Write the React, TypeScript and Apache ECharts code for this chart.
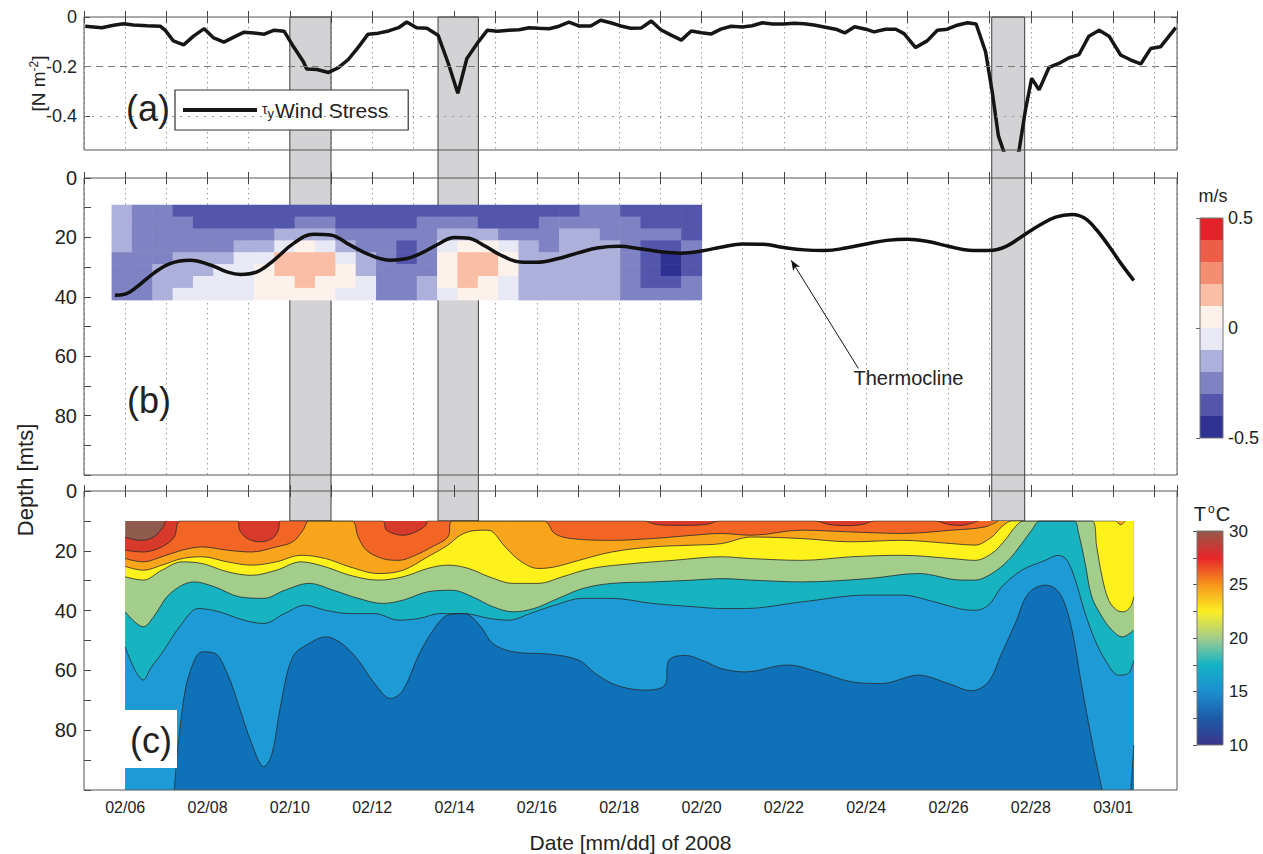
import React, { useEffect, useRef } from "react";
import * as echarts from "echarts";

const FONT = "'Liberation Sans', Arial, Helvetica, sans-serif";
const INK = "#222";

// ---------- shared time axis (day of February 2008; day 30 = 03/01) ----------
const DAY_MIN = 5;
const DAY_MAX = 31.55;
const labelDays = [6, 8, 10, 12, 14, 16, 18, 20, 22, 24, 26, 28, 30];
const labelTexts = ["02/06", "02/08", "02/10", "02/12", "02/14", "02/16", "02/18", "02/20", "02/22", "02/24", "02/26", "02/28", "03/01"];

// shaded wind events (day start / end)
const eventStart = [10.0, 13.6, 27.05];
const eventEnd = [11.0, 14.58, 27.85];

// ---------- (a) wind stress ----------
const windDays = [5.03, 5.43, 5.72, 5.96, 6.2, 6.53, 6.85, 6.97, 7.17, 7.42, 7.66, 7.92, 8.15, 8.4, 8.65, 8.89, 9.13, 9.38, 9.62, 9.86, 10.09, 10.33, 10.41, 10.66, 10.94, 11.18, 11.42, 11.67, 11.9, 12.15, 12.4, 12.64, 12.84, 13.08, 13.33, 13.6, 13.85, 14.08, 14.3, 14.58, 14.8, 15.04, 15.32, 15.57, 15.81, 16.05, 16.3, 16.54, 16.78, 17.02, 17.31, 17.55, 17.79, 18.04, 18.28, 18.54, 18.78, 19.01, 19.25, 19.51, 19.75, 20.0, 20.24, 20.47, 20.72, 20.99, 21.23, 21.48, 21.72, 22.0, 22.25, 22.49, 22.73, 22.98, 23.26, 23.48, 23.72, 23.99, 24.19, 24.47, 24.72, 24.92, 25.2, 25.48, 25.73, 25.97, 26.21, 26.46, 26.67, 26.9, 27.06, 27.21, 27.38, 27.55, 27.71, 27.87, 28.02, 28.2, 28.44, 28.68, 28.93, 29.17, 29.41, 29.66, 29.9, 30.18, 30.43, 30.67, 30.91, 31.15, 31.52];
const windStress = [-0.037, -0.043, -0.033, -0.027, -0.032, -0.035, -0.037, -0.053, -0.096, -0.112, -0.077, -0.047, -0.084, -0.101, -0.08, -0.061, -0.064, -0.069, -0.053, -0.057, -0.12, -0.18, -0.209, -0.211, -0.223, -0.204, -0.171, -0.12, -0.069, -0.065, -0.056, -0.043, -0.02, -0.043, -0.045, -0.073, -0.187, -0.307, -0.167, -0.1, -0.053, -0.057, -0.053, -0.051, -0.043, -0.045, -0.047, -0.037, -0.021, -0.036, -0.036, -0.013, -0.023, -0.036, -0.045, -0.044, -0.016, -0.051, -0.072, -0.093, -0.056, -0.063, -0.068, -0.049, -0.037, -0.04, -0.035, -0.023, -0.028, -0.028, -0.025, -0.027, -0.032, -0.04, -0.049, -0.064, -0.039, -0.049, -0.06, -0.049, -0.049, -0.067, -0.123, -0.096, -0.053, -0.049, -0.033, -0.023, -0.028, -0.14, -0.3, -0.477, -0.56, -0.6, -0.54, -0.373, -0.247, -0.293, -0.203, -0.187, -0.164, -0.151, -0.077, -0.053, -0.077, -0.153, -0.173, -0.189, -0.127, -0.12, -0.043];
const windTicks = [0, -0.2, -0.4];
const WIND_MIN = -0.535;

// ---------- (b) velocity section + thermocline ----------
const thermoDays = [5.75, 6.0, 6.28, 6.69, 7.09, 7.58, 8.07, 8.47, 8.8, 9.2, 9.61, 10.09, 10.58, 10.99, 11.47, 11.96, 12.45, 12.85, 13.18, 13.6, 14.0, 14.35, 14.75, 15.2, 15.6, 16.0, 16.5, 17.0, 17.5, 18.0, 18.5, 19.0, 19.5, 20.0, 20.5, 21.0, 21.5, 22.0, 22.5, 23.0, 23.5, 24.0, 24.5, 25.0, 25.5, 26.0, 26.5, 27.0, 27.4, 27.8, 28.2, 28.6, 29.0, 29.3, 29.6, 29.9, 30.2, 30.5];
const thermoDepth = [39.5, 39.1, 36.7, 32.1, 28.8, 27.7, 29.3, 31.6, 32.5, 31.6, 27.7, 22, 18.9, 19.2, 22.6, 26, 27.7, 27.1, 25.4, 22.3, 20, 20.3, 23, 26.5, 28.3, 28.4, 27.2, 25.2, 23.5, 23, 23.8, 24.8, 25.3, 24.6, 23.2, 22.2, 22.3, 23.4, 24.2, 24.4, 23.6, 22.2, 21, 20.6, 21.4, 23, 24.3, 24.4, 23, 19.5, 16, 13.2, 12.3, 13.5, 17.5, 23, 29, 34.5];
const arrowTail = [23.81, 64.1];
const arrowHead = [22.18, 27.7];

const velDayStart = 5.67;
const velDayEnd = 20.0;
const velDepthTop = [9, 13, 17, 21, 25, 29, 33, 37];
const velCellDepth = 4;
// m/s, one row per depth bin, one value per ~half-day column
const velocity = [
  [-0.15, -0.25, -0.25, -0.35, -0.35, -0.35, -0.35, -0.35, -0.35, -0.35, -0.35, -0.35, -0.35, -0.35, -0.35, -0.35, -0.35, -0.35, -0.35, -0.35, -0.35, -0.35, -0.35, -0.25, -0.25, -0.35, -0.35, -0.35, -0.35],
  [-0.15, -0.25, -0.25, -0.25, -0.35, -0.35, -0.35, -0.35, -0.35, -0.25, -0.25, -0.35, -0.35, -0.35, -0.35, -0.25, -0.25, -0.25, -0.35, -0.35, -0.35, -0.25, -0.25, -0.25, -0.25, -0.25, -0.35, -0.35, -0.35],
  [-0.15, -0.25, -0.25, -0.25, -0.25, -0.25, -0.25, -0.25, -0.15, -0.15, -0.15, -0.25, -0.25, -0.25, -0.25, -0.25, -0.15, -0.15, -0.15, -0.25, -0.25, -0.25, -0.15, -0.15, -0.25, -0.25, -0.25, -0.25, -0.35],
  [-0.15, -0.25, -0.25, -0.25, -0.25, -0.25, -0.15, -0.15, -0.05, 0.05, -0.05, -0.15, -0.25, -0.25, -0.35, -0.25, -0.05, 0.05, 0.05, -0.05, -0.15, -0.25, -0.15, -0.15, -0.15, -0.25, -0.35, -0.35, -0.25],
  [-0.25, -0.25, -0.25, -0.15, -0.15, -0.15, -0.05, -0.05, 0.15, 0.15, 0.15, -0.05, -0.15, -0.25, -0.35, -0.25, 0.05, 0.15, 0.15, 0.05, -0.15, -0.15, -0.15, -0.15, -0.15, -0.25, -0.35, -0.45, -0.35],
  [-0.25, -0.25, -0.15, -0.15, -0.15, -0.05, -0.05, 0.05, 0.15, 0.15, 0.15, 0.05, -0.15, -0.25, -0.25, -0.25, 0.05, 0.15, 0.15, 0.05, -0.15, -0.15, -0.15, -0.15, -0.15, -0.25, -0.35, -0.45, -0.35],
  [-0.25, -0.25, -0.15, -0.15, -0.05, -0.05, -0.05, 0.05, 0.05, 0.15, 0.05, 0.05, -0.05, -0.25, -0.25, -0.15, 0.05, 0.15, 0.05, -0.05, -0.15, -0.15, -0.15, -0.15, -0.15, -0.25, -0.35, -0.35, -0.25],
  [-0.25, -0.25, -0.15, -0.05, -0.05, -0.05, -0.05, 0.05, 0.05, 0.05, 0.05, -0.05, -0.05, -0.25, -0.25, -0.15, -0.05, 0.05, 0.05, -0.05, -0.15, -0.15, -0.15, -0.15, -0.15, -0.25, -0.25, -0.25, -0.25],
];
const velLevels = [-0.5, -0.4, -0.3, -0.2, -0.1, 0, 0.1, 0.2, 0.3, 0.4, 0.5];
const velColors = ["#2e3192", "#5356aa", "#7f83c3", "#adb0da", "#e8e9f5", "#fdf1eb", "#f9bea5", "#f48e72", "#ee5d48", "#e3232a"];
const velTicks = [-0.5, 0, 0.5];

// ---------- (c) temperature section: isotherm depths [day, depth m] ----------
const tempStart = 6.0;
const tempEnd = 30.5;
const iso29 = [[6.0, 15.4], [6.2, 16.2], [6.39, 16.5], [6.69, 15.4], [6.89, 12.6], [6.99, 10], [8, 10], [12, 10], [18, 10], [24, 10], [30.5, 10]];
const iso27 = [[6.0, 19.8], [6.44, 20.4], [6.89, 18.7], [7.19, 15.4], [7.34, 10], [8.73, 10], [8.78, 13.1], [8.97, 15.9], [9.27, 17], [9.57, 15.9], [9.72, 13.1], [9.77, 10], [12.25, 10], [12.35, 13.1], [12.75, 14.8], [13.05, 13.7], [13.3, 11.5], [13.35, 10], [18.61, 10], [18.9, 11.2], [19.5, 11.5], [20.1, 11.2], [20.45, 10], [22.75, 10], [23.1, 11.2], [23.5, 11.6], [23.9, 11.2], [24.21, 10], [25.67, 10], [26.0, 11.2], [26.3, 11.5], [26.72, 10], [30.5, 10]];
const iso25 = [[6.0, 22.6], [6.44, 23.7], [6.89, 22], [7.38, 19.8], [7.88, 18.7], [8.48, 19.8], [9.07, 20.4], [9.67, 18.7], [10.07, 17], [10.32, 13.1], [10.47, 10], [11.5, 10], [11.66, 15.4], [11.86, 19.8], [12.25, 22.6], [12.65, 23.2], [13.05, 21.5], [13.45, 18.7], [13.84, 15.4], [13.94, 10], [16.17, 10], [16.43, 14.2], [16.83, 15.9], [17.82, 16.5], [18.81, 15.9], [19.8, 14.8], [20.48, 14.2], [21.21, 14.8], [22.43, 13.1], [23.64, 13.7], [24.86, 14.2], [26.08, 13.1], [26.89, 12], [27.21, 10], [30.5, 10]];
const iso23 = [[6.0, 25.2], [6.44, 26.5], [6.89, 24.8], [7.38, 22.6], [7.88, 22], [8.48, 23.7], [9.07, 24.8], [9.67, 23.7], [10.27, 21.5], [10.87, 22.6], [11.46, 25.4], [12.15, 27.6], [12.75, 26.5], [13.35, 22], [13.84, 18.1], [14.14, 14.8], [14.45, 13.3], [14.74, 13.1], [14.93, 13.7], [15.23, 18.7], [15.63, 23.7], [16.03, 25.9], [16.43, 25.4], [17.02, 23.2], [17.82, 20.4], [18.81, 18.7], [19.8, 18.1], [20.48, 17.6], [21.21, 15.4], [22.43, 15.9], [23.64, 17], [24.86, 16.5], [26.08, 17.6], [26.64, 18.1], [27.05, 15.4], [27.29, 12], [27.54, 10], [30.05, 10], [30.18, 11.3], [30.3, 10], [30.5, 10]];
const iso21 = [[6.0, 28.7], [6.44, 29.8], [6.89, 26.5], [7.38, 23.7], [7.88, 24.3], [8.48, 27], [9.07, 28.2], [9.67, 26.5], [10.27, 23.7], [10.87, 25.4], [11.46, 28.2], [12.15, 29.8], [12.75, 28.7], [13.35, 25.9], [13.84, 24.8], [14.34, 25.9], [14.84, 28.7], [15.43, 30.9], [16.03, 30.9], [16.62, 28.7], [17.32, 25.9], [18.31, 24.3], [19.31, 23.2], [20.48, 22], [21.21, 22.6], [22.43, 23.2], [23.64, 22], [24.86, 21.5], [26.08, 22.6], [26.64, 23.2], [27.05, 20.9], [27.37, 16.5], [27.62, 12], [27.82, 10], [29.48, 10], [29.6, 18.7], [29.73, 28.7], [29.89, 36.5], [30.09, 39.9], [30.25, 40.4], [30.42, 38.7], [30.5, 35.4]];
const iso19 = [[6.0, 40.4], [6.44, 45.4], [6.69, 42.1], [7.09, 34.3], [7.68, 30.4], [8.18, 32.1], [8.78, 35.4], [9.37, 35.9], [9.87, 33.2], [10.47, 30.9], [11.06, 33.2], [11.66, 35.9], [12.25, 37.6], [12.75, 36.5], [13.35, 33.7], [13.94, 33.2], [14.44, 35.4], [14.93, 38.7], [15.43, 40.4], [15.93, 39.3], [16.52, 35.9], [17.12, 32.6], [17.82, 30.9], [18.81, 30.4], [19.8, 29.8], [20.48, 29.3], [21.21, 29.8], [22.43, 30.4], [24.05, 29.3], [25.27, 27.6], [26.32, 29.8], [26.64, 29.8], [27.05, 27.6], [27.45, 23.2], [27.78, 17.6], [28.02, 13.1], [28.23, 10], [29.04, 10], [29.16, 14.2], [29.32, 24.3], [29.48, 35.4], [29.73, 42.1], [29.97, 46.5], [30.22, 48.8], [30.5, 46.5]];
const iso17 = [[6.0, 52.1], [6.44, 63.2], [6.64, 58.8], [6.89, 54.3], [7.38, 44.3], [7.78, 39.3], [8.28, 40.4], [8.88, 43.2], [9.37, 44.3], [9.87, 41], [10.37, 38.2], [10.87, 39.9], [11.46, 41], [12.06, 41], [12.65, 43.2], [13.15, 42.6], [13.64, 41], [14.24, 41], [14.84, 42.6], [15.33, 43.2], [15.83, 41], [16.43, 38.2], [17.12, 35.9], [17.82, 35.9], [18.81, 37.6], [19.8, 38.7], [20.48, 39.3], [21.05, 39.3], [22.43, 37.1], [24.05, 34.8], [24.86, 34.8], [25.67, 37.1], [26.24, 39.3], [26.64, 39.9], [26.97, 38.2], [27.29, 32.1], [27.78, 26.5], [28.35, 23.2], [28.67, 21.5], [28.88, 23.2], [29.08, 29.8], [29.32, 41], [29.56, 49.9], [29.81, 56.6], [30.13, 61.6], [30.37, 61], [30.5, 56.6]];
const iso15 = [[6.0, 101], [7.1, 101], [7.19, 100], [7.43, 68.8], [7.68, 56.6], [7.88, 53.8], [8.18, 54.3], [8.48, 61], [8.77, 72.2], [9.07, 84.4], [9.37, 92.2], [9.57, 87.7], [9.77, 72.2], [10.07, 55.5], [10.47, 51], [10.87, 48.8], [11.26, 51], [11.66, 56.6], [12.06, 64.4], [12.45, 69.4], [12.75, 66.6], [13.15, 54.3], [13.54, 45.4], [13.84, 41.5], [14.24, 41], [14.64, 45.4], [14.93, 51], [15.43, 53.8], [16.33, 54.6], [17.02, 56.6], [17.42, 61], [17.92, 64.9], [18.61, 66.6], [19.11, 64.9], [19.21, 56.6], [19.6, 55], [20.1, 57.1], [20.48, 59.4], [21.05, 60.5], [22.1, 58.2], [22.83, 60.5], [23.64, 63.8], [24.37, 64.4], [25.27, 61.6], [26.0, 64.4], [26.56, 66.8], [26.97, 63.8], [27.29, 54.3], [27.62, 44.3], [27.94, 34.3], [28.35, 31.5], [28.59, 32.6], [28.79, 36.5], [29.0, 46.5], [29.24, 65.5], [29.48, 83.3], [29.73, 100], [29.8, 101], [30.38, 101], [30.43, 100], [30.5, 85]];
const isotherms = [iso29, iso27, iso25, iso23, iso21, iso19, iso17, iso15];
// fill colour of the water colder than each isotherm (warmest first)
const warmestColor = "#8f5b4c";
const bandColors = ["#d7392b", "#f26524", "#f8a51c", "#fff21c", "#a3cd8b", "#18b3c1", "#1e9ad6", "#0f71b8"];
const tempScaleValues = [10, 12.5, 15, 17.5, 20, 22.5, 25, 27.5, 30];
const tempScaleColors = ["#3a3589", "#1e5aa8", "#1b8fd0", "#14b3c6", "#a3cc8b", "#fcee21", "#f7941d", "#e8252a", "#935a4a"];

// ---------- layout ----------
const GL = 84;
const GW = 1093;
const A_TOP = 17, A_H = 133;
const B_TOP = 178, B_H = 297;
const C_TOP = 491, C_H = 299;

function velColor(v: number) {
  let i = 0;
  for (let k = 0; k < velColors.length; k++) {
    if (v > velLevels[k] && v <= velLevels[k + 1]) i = k;
  }
  if (v > velLevels[velLevels.length - 1]) i = velColors.length - 1;
  return velColors[i];
}

function timeAxis(gridIndex: number, extra: any = {}) {
  return {
    type: "value",
    gridIndex,
    min: DAY_MIN,
    max: DAY_MAX,
    interval: 1,
    axisLine: { show: false },
    axisTick: { show: true, inside: true, length: 6, lineStyle: { color: "#444", width: 1 } },
    axisLabel: { show: false },
    splitLine: { show: false },
    ...extra,
  };
}
const dotted = { show: true, lineStyle: { type: [1.5, 3.5], color: "#9a9a9a", width: 1 } };

function depthAxis(gridIndex: number) {
  return {
    type: "value",
    gridIndex,
    min: 0,
    max: 100,
    interval: 10,
    inverse: true,
    axisLine: { show: false },
    axisTick: { show: true, inside: true, length: 7, lineStyle: { color: "#444" } },
    axisLabel: {
      show: true,
      interval: 0,
      fontSize: 20,
      color: INK,
      margin: 7,
      fontFamily: FONT,
      formatter: (v: number) => (v % 20 === 0 && v < 100 ? String(v) : ""),
    },
    splitLine: { show: false },
  };
}

function contourLineData(pts: number[][]) {
  const edge = (q?: number[]) => !q || q[1] <= 10 || q[1] >= 100;
  return pts.map((p, i) => (edge(p) && edge(pts[i - 1]) && edge(pts[i + 1]) ? [p[0], null] : p));
}

function buildOption(): any {
  const grid = [
    { left: GL, top: A_TOP, width: GW, height: A_H, show: true, borderColor: "#555", borderWidth: 1, z: 10 },
    { left: GL, top: B_TOP, width: GW, height: B_H, show: true, borderColor: "#555", borderWidth: 1, z: 10 },
    { left: GL, top: C_TOP, width: GW, height: C_H, show: true, borderColor: "#555", borderWidth: 1, z: 10 },
    { left: GL, top: C_TOP + C_H * 0.1, width: GW, height: C_H * 0.9, show: false },
    { left: 1200, top: 218, width: 23, height: 220, show: true, borderColor: "#777", borderWidth: 1, z: 10 },
    { left: 1197, top: 531, width: 26, height: 214, show: true, borderColor: "#777", borderWidth: 1, z: 10 },
  ];

  const xAxis = [
    timeAxis(0, { splitLine: dotted }),
    timeAxis(0, { position: "top" }),
    timeAxis(1, { splitLine: dotted }),
    timeAxis(1, { position: "top" }),
    timeAxis(2, {
      z: 5,
      axisLabel: {
        show: true,
        interval: 0,
        fontSize: 16,
        color: INK,
        margin: 9,
        fontFamily: FONT,
        formatter: (v: number) => {
          const k = labelDays.indexOf(Math.round(v));
          return k >= 0 && Math.abs(v - labelDays[k]) < 1e-6 ? labelTexts[k] : "";
        },
      },
      name: "Date [mm/dd] of 2008",
      nameLocation: "middle",
      nameGap: 42,
      nameTextStyle: { fontSize: 21, color: INK, fontFamily: FONT },
    }),
    timeAxis(2, { position: "top", z: 5 }),
    { type: "value", gridIndex: 3, min: DAY_MIN, max: DAY_MAX, show: false },
    { type: "value", gridIndex: 4, min: 0, max: 1, show: false },
    { type: "value", gridIndex: 5, min: 0, max: 1, show: false },
  ];

  const yAxis = [
    {
      type: "value",
      gridIndex: 0,
      min: WIND_MIN,
      max: 0,
      axisLine: { show: false },
      axisTick: { show: true, inside: true, length: 6, customValues: windTicks, lineStyle: { color: "#444" } },
      axisLabel: { show: true, customValues: windTicks, fontSize: 18, color: INK, margin: 7, fontFamily: FONT, formatter: (v: number) => (v === 0 ? "0" : String(v)) },
      splitLine: { show: false },
      name: "[N m{sup|-2}]",
      nameLocation: "middle",
      nameRotate: 90,
      nameGap: 35,
      nameMoveOverlap: false,
      nameTextStyle: { fontSize: 19, color: INK, fontFamily: FONT, rich: { sup: { fontSize: 12, fontFamily: FONT, color: INK, padding: [0, 0, 9, 0] } } },
    },
    {
      type: "value",
      gridIndex: 0,
      position: "right",
      min: WIND_MIN,
      max: 0,
      axisLine: { show: false },
      axisTick: { show: true, inside: true, length: 6, customValues: windTicks, lineStyle: { color: "#444" } },
      axisLabel: { show: false },
      splitLine: { show: false },
    },
    depthAxis(1),
    depthAxis(2),
    { type: "value", gridIndex: 3, min: 10, max: 100, inverse: true, show: false },
    {
      type: "value",
      gridIndex: 4,
      position: "right",
      min: -0.5,
      max: 0.5,
      interval: 0.5,
      axisLine: { show: false },
      axisTick: { show: true, inside: true, length: 4, lineStyle: { color: "#666" } },
      axisLabel: { show: true, interval: 0, fontSize: 18, color: INK, margin: 5, fontFamily: FONT, formatter: (v: number) => (velTicks.some((t) => Math.abs(t - v) < 1e-6) ? String(v) : "") },
      splitLine: { show: false },
    },
    {
      type: "value",
      gridIndex: 5,
      position: "right",
      min: 10,
      max: 30,
      interval: 2.5,
      axisLine: { show: false },
      axisTick: { show: true, inside: true, length: 4, lineStyle: { color: "#555" } },
      axisLabel: { show: true, interval: 0, fontSize: 17, color: INK, margin: 6, fontFamily: FONT, formatter: (v: number) => (v % 5 === 0 ? String(v) : "") },
      splitLine: { show: false },
    },
  ];

  const velData: number[][] = [];
  const cellW = (velDayEnd - velDayStart) / velocity[0].length;
  velocity.forEach((row, r) => row.forEach((v, c) => velData.push([velDayStart + c * cellW, velDepthTop[r], v])));

  const series: any[] = [];
  series.push({
    name: "wind",
    type: "line",
    xAxisIndex: 0,
    yAxisIndex: 0,
    data: windDays.map((d, i) => [d, windStress[i]]),
    symbol: "none",
    z: 3,
    lineStyle: { color: "#161616", width: 3.5 },
    itemStyle: { color: "#161616" },
    markLine: {
      silent: true,
      symbol: "none",
      label: { show: false },
      data: [
        { yAxis: windTicks[1], lineStyle: { type: [7, 5], color: "#7a7a7a", width: 1 } },
        { yAxis: windTicks[2], lineStyle: { type: [2, 6], color: "#9a9a9a", width: 1 } },
      ],
    },
  });
  series.push({
    type: "custom",
    xAxisIndex: 2,
    yAxisIndex: 2,
    z: 2,
    silent: true,
    data: velData,
    encode: { x: 0, y: 1 },
    renderItem: (params: any, api: any) => {
      const x0 = api.value(0), y0 = api.value(1), v = api.value(2);
      const p0 = api.coord([x0, y0]);
      const p1 = api.coord([x0 + cellW, y0 + velCellDepth]);
      return {
        type: "rect",
        shape: { x: p0[0], y: p0[1], width: p1[0] - p0[0] + 0.6, height: p1[1] - p0[1] + 0.6 },
        style: { fill: velColor(v) },
      };
    },
  });
  series.push({
    name: "thermocline",
    type: "line",
    xAxisIndex: 2,
    yAxisIndex: 2,
    data: thermoDays.map((d, i) => [d, thermoDepth[i]]),
    symbol: "none",
    smooth: 0.4,
    z: 4,
    lineStyle: { color: "#111", width: 3.5 },
    markLine: {
      silent: true,
      symbol: ["none", "arrow"],
      symbolSize: [6, 10],
      label: { show: false },
      lineStyle: { color: "#111", width: 1, type: "solid" },
      data: [[{ coord: arrowTail }, { coord: arrowHead }]],
    },
  });
  // temperature section: warmest water first, each colder layer drawn below its isotherm
  series.push({
    type: "line",
    xAxisIndex: 6,
    yAxisIndex: 4,
    data: [[tempStart, 10], [tempEnd, 10]],
    symbol: "none",
    silent: true,
    lineStyle: { width: 0 },
    areaStyle: { color: warmestColor, opacity: 1, origin: "end" },
  });
  isotherms.forEach((pts, k) => {
    series.push({
      type: "line",
      xAxisIndex: 6,
      yAxisIndex: 4,
      data: pts,
      symbol: "none",
      smooth: 0.35,
      silent: true,
      lineStyle: { width: 0 },
      areaStyle: { color: bandColors[k], opacity: 1, origin: "end" },
    });
  });
  isotherms.forEach((pts) => {
    series.push({
      type: "line",
      xAxisIndex: 6,
      yAxisIndex: 4,
      data: contourLineData(pts),
      symbol: "none",
      smooth: 0.35,
      silent: true,
      connectNulls: false,
      lineStyle: { width: 0.8, color: "#2a2a2a" },
    });
  });
  // colour bars
  series.push({
    type: "custom",
    xAxisIndex: 7,
    yAxisIndex: 5,
    silent: true,
    data: velColors.map((c, i) => [0, velLevels[i], velLevels[i + 1], i]),
    renderItem: (params: any, api: any) => {
      const p0 = api.coord([0, api.value(2)]);
      const p1 = api.coord([1, api.value(1)]);
      return { type: "rect", shape: { x: p0[0], y: p0[1], width: p1[0] - p0[0], height: p1[1] - p0[1] }, style: { fill: velColors[api.value(3)] } };
    },
  });
  const tMin = tempScaleValues[0], tMax = tempScaleValues[tempScaleValues.length - 1];
  series.push({
    type: "custom",
    xAxisIndex: 8,
    yAxisIndex: 6,
    silent: true,
    data: [[0, tMin, tMax]],
    renderItem: (params: any, api: any) => {
      const p0 = api.coord([0, api.value(2)]);
      const p1 = api.coord([1, api.value(1)]);
      const stops = tempScaleValues.map((v, i) => ({ offset: (tMax - v) / (tMax - tMin), color: tempScaleColors[i] })).reverse();
      return {
        type: "rect",
        shape: { x: p0[0], y: p0[1], width: p1[0] - p0[0], height: p1[1] - p0[1] },
        style: { fill: new echarts.graphic.LinearGradient(0, 0, 0, 1, stops) },
      };
    },
  });

  return {
    animation: false,
    backgroundColor: "#ffffff",
    textStyle: { fontFamily: FONT },
    grid,
    xAxis,
    yAxis,
    legend: {
      data: ["wind"],
      left: 175,
      top: 90,
      icon: "rect",
      itemWidth: 74,
      itemHeight: 4,
      selectedMode: false,
      padding: [9, 20, 9, 8],
      backgroundColor: "#fff",
      borderColor: "#333",
      borderWidth: 1.2,
      borderRadius: 0,
      formatter: () => "{t|τ}{s|y}Wind Stress",
      textStyle: {
        fontSize: 21,
        color: INK,
        fontFamily: FONT,
        lineHeight: 22,
        rich: {
          t: { fontSize: 14, fontFamily: FONT, color: INK, padding: [0, 0, 3, 0] },
          s: { fontSize: 13, fontFamily: FONT, color: INK, padding: [7, 1, 0, 0] },
        },
      },
    },
    series,
  };
}

export default function App() {
  const ref = useRef<HTMLDivElement>(null);
  useEffect(() => {
    const el = ref.current;
    if (!el) return;
    const chart = echarts.init(el, null, { renderer: "svg" });
    chart.setOption(buildOption());

    const xPx = (d: number) => chart.convertToPixel({ xAxisIndex: 0 }, d) as unknown as number;
    const yTop = chart.convertToPixel({ yAxisIndex: 0 }, 0) as unknown as number;
    const yBottom = chart.convertToPixel({ yAxisIndex: 3 }, 10) as unknown as number;
    const graphics: any[] = [];
    eventStart.forEach((s, i) => {
      const x0 = xPx(s), x1 = xPx(eventEnd[i]);
      graphics.push({
        type: "rect",
        z: 1,
        silent: true,
        shape: { x: x0, y: yTop, width: x1 - x0, height: yBottom - yTop },
        style: { fill: "#d3d3d5", stroke: "#3c3c3c", lineWidth: 1 },
      });
    });
    const txt = (text: string, x: number, y: number, size: number, extra: any = {}) => ({
      type: "text",
      z: 20,
      silent: true,
      x,
      y,
      ...extra,
      style: { text, fontSize: size, fontFamily: FONT, fill: INK, align: "left", verticalAlign: "middle", textAlign: "left", textVerticalAlign: "middle", ...(extra.style || {}) },
    });
    graphics.push(txt("(a)", 126, 108, 36));
    graphics.push(txt("(b)", 127, 400, 36));
    graphics.push({ type: "rect", z: 19, silent: true, shape: { x: 125, y: 710, width: 52, height: 58 }, style: { fill: "#fff" } });
    graphics.push(txt("(c)", 130, 740, 36));
    graphics.push(txt("Depth [mts]", 25, 480, 22, { rotation: Math.PI / 2, style: { align: "center", textAlign: "center" } }));
    const tx = chart.convertToPixel({ xAxisIndex: 2 }, 23.69) as unknown as number;
    const ty = chart.convertToPixel({ yAxisIndex: 2 }, 67.4) as unknown as number;
    graphics.push(txt("Thermocline", tx, ty, 20));
    graphics.push(txt("m/s", 1213, 196, 18, { style: { align: "center", textAlign: "center" } }));
    graphics.push({
      type: "text",
      z: 20,
      silent: true,
      x: 1212,
      y: 514,
      style: {
        text: "{n|T}{o|o}{n|C}",
        align: "center",
        verticalAlign: "middle",
        textAlign: "center",
        textVerticalAlign: "middle",
        rich: {
          n: { fontSize: 20, fontFamily: FONT, fill: INK, color: INK },
          o: { fontSize: 12, fontFamily: FONT, fill: INK, color: INK, padding: [0, 1, 10, 2] },
        },
      },
    });
    chart.setOption({ graphic: graphics });
    return () => chart.dispose();
  }, []);
  return <div ref={ref} style={{ position: "fixed", left: 0, top: 0, width: 1263, height: 854, background: "#fff" }} />;
}
